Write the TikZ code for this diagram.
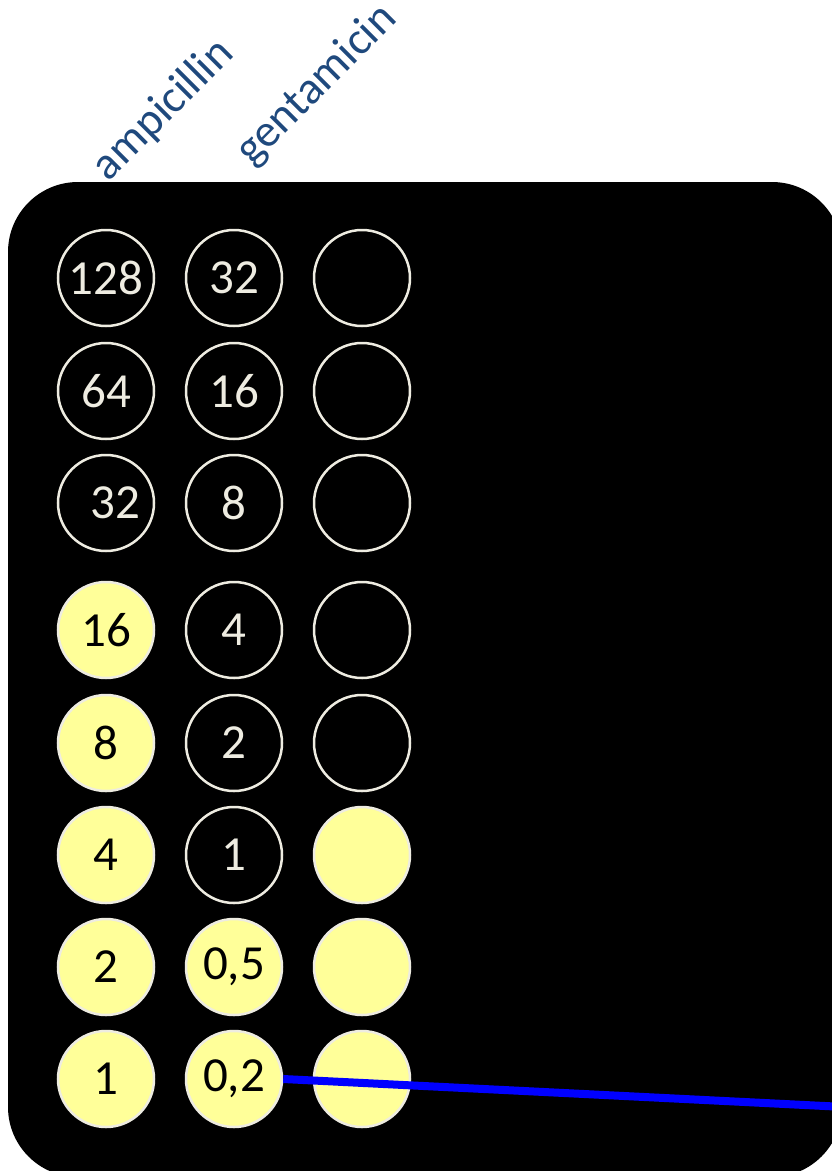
\documentclass[tikz,border=0pt]{standalone}
\usepackage{fontspec}
\setmainfont{Carlito}
\usepackage{xcolor}
\usepackage{tikz}
\usetikzlibrary{arrows.meta,positioning,calc}
\definecolor{PlateBlack}{HTML}{000000}
\definecolor{RimWhite}{HTML}{EEECE1}
\definecolor{GrowYellow}{HTML}{FFFF99}
\definecolor{DrugBlue}{HTML}{1F497D}
\definecolor{LineBlue}{HTML}{0000FF}

\begin{document}
\begin{tikzpicture}[x=1pt,y=-1pt,
  well/.style={circle,draw=RimWhite,line width=2.5pt,minimum size=96pt,inner sep=0pt,
    text=RimWhite,font=\fontsize{49}{49}\selectfont},
  grown/.style={well,fill=GrowYellow,text=black},
  drug/.style={rotate=45,anchor=base west,text=DrugBlue,font=\fontsize{46}{46}\selectfont}]
\useasboundingbox (0,0) rectangle (831,1171);
\fill[PlateBlack,rounded corners=70pt] (8,182) rectangle (842,1177);
% column labels
\node[drug] (lab1) at (106,185) {ampicillin};
\node[drug] (lab2) at (250,169) {gentamicin};
% ampicillin column
\node[well] (a1) at (106,278) {128};
\node[well] (a2) at (106,391) {64};
\node[well] (a3) at (106,503) {\hspace*{18pt}32};
\node[grown] (a4) at (106,630) {16};
\node[grown] (a5) at (106,743) {8};
\node[grown] (a6) at (106,855) {4};
\node[grown] (a7) at (106,967) {2};
\node[grown] (a8) at (106,1079) {1};
% gentamicin column
\node[well] (g1) at (234,278) {32};
\node[well] (g2) at (234,391) {16};
\node[well] (g3) at (234,503) {8};
\node[well] (g4) at (234,630) {4};
\node[well] (g5) at (234,743) {2};
\node[well] (g6) at (234,855) {1};
\node[grown] (g7) at (234,967) {0,5};
\node[grown] (g8) at (234,1079) {0,2};
% control column
\node[well] (c1) at (362,278) {};
\node[well] (c2) at (362,391) {};
\node[well] (c3) at (362,503) {};
\node[well] (c4) at (362,630) {};
\node[well] (c5) at (362,743) {};
\node[grown] (c6) at (362,855) {};
\node[grown] (c7) at (362,967) {};
\node[grown] (c8) at (362,1079) {};
% pointer
\coordinate (tip) at (845,1107);
\draw[LineBlue,line width=8pt] (g8.east) -- (tip);
\end{tikzpicture}
\end{document}
